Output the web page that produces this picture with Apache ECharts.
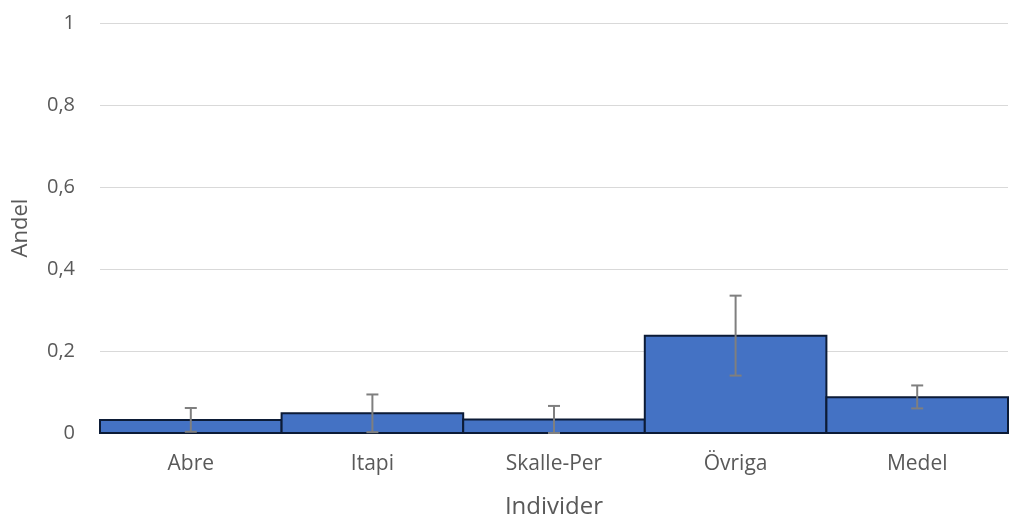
<!DOCTYPE html>
<html>
<head>
<meta charset="utf-8">
<script src="https://cdn.jsdelivr.net/npm/echarts@6/dist/echarts.min.js"></script>
<style>
  html, body { margin: 0; padding: 0; background: #fff; }
  #chart { width: 1010px; height: 517px; }
</style>
</head>
<body>
<div id="chart"></div>
<script>
// data
const categories = ['Abre', 'Itapi', 'Skalle-Per', 'Övriga', 'Medel']
const andel = [0.032, 0.048, 0.033, 0.237, 0.087]
const errLow = [0.029, 0.046, 0.033, 0.097, 0.027]
const errHigh = [0.029, 0.046, 0.033, 0.098, 0.029]

const barData = categories.map((c, i) => [i, andel[i]])
const errData = categories.map((c, i) => [i, andel[i] - errLow[i], andel[i] + errHigh[i]])

const textColor = '#595959'
const font = 'Open Sans'

const chart = echarts.init(document.getElementById('chart'))

const option = {
  backgroundColor: '#fff',
  animation: false,
  grid: {
    left: 100,
    right: 2,
    top: 23,
    bottom: 84,
    outerBoundsMode: 'none'
  },
  xAxis: {
    type: 'category',
    data: categories,
    name: 'Individer',
    nameLocation: 'middle',
    nameGap: 62,
    nameTextStyle: { color: textColor, fontSize: 24, fontFamily: font },
    axisLine: { show: true, lineStyle: { color: '#d9d9d9', width: 1 } },
    axisTick: { show: false },
    axisLabel: { color: textColor, fontSize: 21, fontFamily: font, margin: 21 }
  },
  yAxis: {
    type: 'value',
    min: 0,
    max: 1,
    interval: 0.2,
    name: 'Andel',
    nameLocation: 'middle',
    nameGap: 68,
    nameTextStyle: { color: textColor, fontSize: 22, fontFamily: font },
    axisLine: { show: false },
    axisTick: { show: false },
    axisLabel: {
      color: textColor,
      fontSize: 20,
      fontFamily: font,
      margin: 25,
      formatter: v => String(Math.round(v * 10) / 10).replace('.', ',')
    },
    splitLine: { lineStyle: { color: '#d9d9d9', width: 1 } }
  },
  series: [
    {
      // bars drawn edge to edge so neighbouring outlines share one line
      name: 'Andel',
      type: 'custom',
      data: barData,
      renderItem: function (params, api) {
        const x = api.value(0)
        const top = api.coord([x, api.value(1)])
        const base = api.coord([x, 0])
        const w = api.size([1, 0])[0]
        return {
          type: 'rect',
          shape: { x: top[0] - w / 2, y: top[1], width: w, height: base[1] - top[1] },
          style: { fill: '#4472C4', stroke: '#0c1b36', lineWidth: 2 }
        }
      }
    },
    {
      name: 'Fel',
      type: 'custom',
      data: errData,
      z: 10,
      renderItem: function (params, api) {
        const x = api.value(0)
        const lo = api.coord([x, Math.max(api.value(1), 0)])
        const hi = api.coord([x, api.value(2)])
        const half = 6
        const style = { stroke: '#7f7f7f', lineWidth: 2 }
        return {
          type: 'group',
          children: [
            { type: 'line', shape: { x1: hi[0], y1: hi[1], x2: lo[0], y2: lo[1] }, style: style },
            { type: 'line', shape: { x1: hi[0] - half, y1: hi[1], x2: hi[0] + half, y2: hi[1] }, style: style },
            { type: 'line', shape: { x1: lo[0] - half, y1: lo[1], x2: lo[0] + half, y2: lo[1] }, style: style }
          ]
        }
      }
    }
  ]
}

chart.setOption(option)
</script>
</body>
</html>
